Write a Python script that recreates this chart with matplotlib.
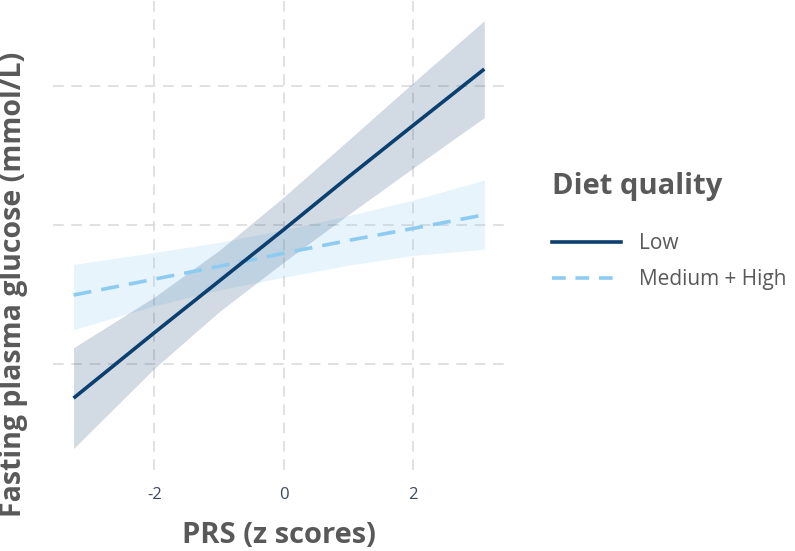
import matplotlib
matplotlib.use("Agg")
import matplotlib.pyplot as plt
from matplotlib.lines import Line2D

plt.rcParams['font.family'] = ['Open Sans', 'DejaVu Sans']

# PRS (z scores) at which values were read
prs = [-3.25, -2, -1, 0, 1, 2, 3.1]

# Low diet quality: fitted value and 95% CI
low_fit = [4.879, 5.114, 5.299, 5.484, 5.673, 5.858, 6.060]
low_lo  = [4.698, 4.986, 5.189, 5.367, 5.538, 5.705, 5.886]
low_hi  = [5.060, 5.242, 5.409, 5.601, 5.805, 6.011, 6.234]

# Medium + High diet quality: fitted value and 95% CI
med_fit = [5.249, 5.306, 5.352, 5.399, 5.445, 5.488, 5.537]
med_lo  = [5.125, 5.210, 5.267, 5.313, 5.356, 5.391, 5.413]
med_hi  = [5.359, 5.402, 5.438, 5.484, 5.534, 5.590, 5.662]

x_ticks = [-2, 0, 2]
x_ticklabels = ["-2", "0", "2"]
y_grid = [5.0, 5.5, 6.0]

legend_title = "Diet quality"
series_names = ["Low", "Medium + High"]

c_low = "#0b3f6f"
c_low_band = "#1f4e79"
c_med = "#8ecbf1"
c_med_band = "#8ecbf0"
txt_gray = "#595959"

fig = plt.figure(figsize=(7.95, 5.51), dpi=100)
ax = fig.add_axes([0.0667, 0.147, 0.5683, 0.853])

ax.fill_between(prs, med_lo, med_hi, color=c_med_band, alpha=0.2, linewidth=0, zorder=2)
ax.fill_between(prs, low_lo, low_hi, color=c_low_band, alpha=0.2, linewidth=0, zorder=3)
ax.plot(prs, med_fit, color=c_med, lw=2.6, dashes=(5, 2.8), zorder=4, solid_capstyle='butt')
ax.plot(prs, low_fit, color=c_low, lw=2.6, zorder=5, solid_capstyle='butt')

ax.set_xlim(-3.5675, 3.4175)
ax.set_ylim(4.621, 6.308)

ax.set_xticks(x_ticks)
ax.set_xticklabels(x_ticklabels, fontsize=12, color="#3b4a5e")
ax.set_yticks(y_grid)
ax.set_yticklabels([])
ax.tick_params(length=0, pad=12)
ax.grid(True, color="#d9d9d9", lw=1.1, dashes=(7, 5), zorder=0)
ax.set_axisbelow(True)
for s in ax.spines.values():
    s.set_visible(False)

ax.set_xlabel("PRS (z scores)", fontsize=21, fontweight='bold', color=txt_gray, labelpad=13)
ax.set_ylabel("Fasting plasma glucose (mmol/L)", fontsize=20.5, fontweight='bold', color=txt_gray)
ax.yaxis.set_label_coords(-0.055, 0.395)

handles = [Line2D([0], [0], color=c_low, lw=2.6),
           Line2D([0], [0], color=c_med, lw=2.6, dashes=(3.8, 2.7))]
leg = fig.legend(handles, series_names, loc='upper left', bbox_to_anchor=(0.684, 0.703),
                 frameon=False, fontsize=15, title=legend_title, handlelength=3.3,
                 handletextpad=0.85, labelspacing=0.72, borderaxespad=0)
leg.get_title().set_fontsize(21)
leg.get_title().set_fontweight('bold')
leg.get_title().set_color(txt_gray)
leg._legend_box.align = "left"
leg._legend_box.sep = 23
for t in leg.get_texts():
    t.set_color(txt_gray)

fig.savefig("out.png", dpi=100)
